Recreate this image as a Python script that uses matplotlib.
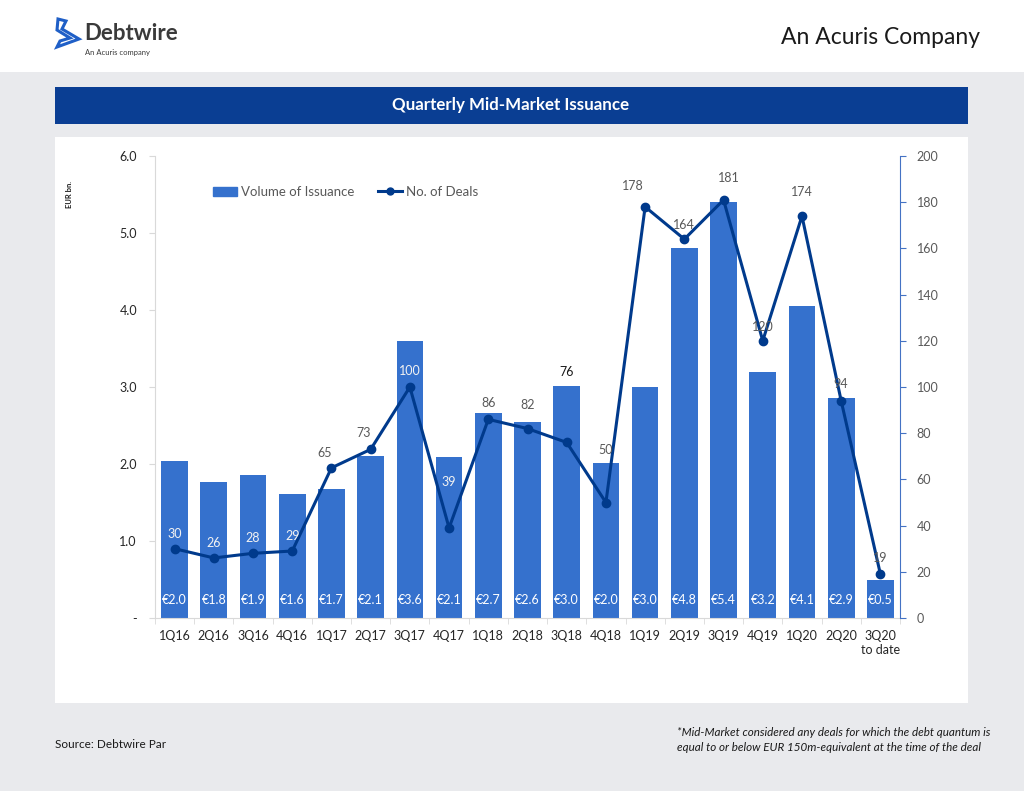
import matplotlib
matplotlib.use("Agg")
import matplotlib.pyplot as plt
from matplotlib.patches import Rectangle, Polygon
from matplotlib.lines import Line2D
import numpy as np

plt.rcParams['font.family'] = ['Lato', 'DejaVu Sans']

# data
quarters = ["1Q16", "2Q16", "3Q16", "4Q16", "1Q17", "2Q17", "3Q17", "4Q17", "1Q18", "2Q18",
            "3Q18", "4Q18", "1Q19", "2Q19", "3Q19", "4Q19", "1Q20", "2Q20", "3Q20\nto date"]
volume = [2.04, 1.77, 1.86, 1.61, 1.67, 2.10, 3.60, 2.09, 2.66, 2.55,
          3.01, 2.01, 3.00, 4.81, 5.40, 3.19, 4.05, 2.86, 0.49]
volume_labels = ["€2.0", "€1.8", "€1.9", "€1.6", "€1.7", "€2.1", "€3.6", "€2.1", "€2.7", "€2.6",
                 "€3.0", "€2.0", "€3.0", "€4.8", "€5.4", "€3.2", "€4.1", "€2.9", "€0.5"]
deals = [30, 26, 28, 29, 65, 73, 100, 39, 86, 82, 76, 50, 178, 164, 181, 120, 174, 94, 19]

BAR = "#3571cd"
LINE = "#003a8c"
GREY_TXT = "#595959"
BG = "#e9eaed"

fig = plt.figure(figsize=(10.24, 7.91), dpi=100)
fig.patch.set_facecolor(BG)
W, H = 1024, 791


def box(x0, y0, x1, y1, color):
    # pixel coords (top-left origin) -> figure rectangle
    fig.patches.append(Rectangle((x0 / W, 1 - y1 / H), (x1 - x0) / W, (y1 - y0) / H,
                                 transform=fig.transFigure, facecolor=color,
                                 edgecolor="none", zorder=-5))


def ftext(x, y, s, **kw):
    fig.text(x / W, 1 - y / H, s, **kw)


# header / panels
box(0, 0, W, 72, "white")
box(55, 87, 968, 124, "#0a3e93")
box(55, 137, 968, 703, "white")

ftext(980, 37, "An Acuris Company", fontsize=16.5, color="#1a1a1a", ha="right", va="center")
ftext(511, 105, "Quarterly Mid-Market Issuance", fontsize=12.2, color="white",
      fontweight="bold", ha="center", va="center")

# logo
logo = [(58, 19), (66, 21), (62, 29), (79, 39), (57, 47), (60, 41), (70, 38), (57, 30)]
fig.patches.append(Polygon([(x / W, 1 - y / H) for x, y in logo], closed=True,
                           transform=fig.transFigure, facecolor="none",
                           edgecolor="#1f5fc7", linewidth=2.2, zorder=2))
ftext(84, 33, "Debtwire", fontsize=16, color="#3a3a3a", fontweight="bold",
      ha="left", va="center")
ftext(85, 52, "An Acuris company", fontsize=5.5, color="#3a3a3a", ha="left", va="center")

# footer
ftext(55, 745, "Source: Debtwire Par", fontsize=8.5, color="#1a1a1a", ha="left", va="center")
ftext(677, 740, "*Mid-Market considered any deals for which the debt quantum is\n"
                "equal to or below EUR 150m-equivalent at the time of the deal",
      fontsize=8.4, color="#1a1a1a", style="italic", ha="left", va="center",
      linespacing=1.35)

# main chart
ax = fig.add_axes([155 / W, 1 - 618 / H, 745 / W, 462 / H])
ax.set_facecolor("none")
x = np.arange(len(quarters))
ax.bar(x, volume, width=0.68, color=BAR, zorder=2)
ax.set_xlim(-0.5, len(quarters) - 0.5)
ax.set_ylim(0, 6)
ax.set_yticks(np.arange(0, 7, 1.0))
ax.set_yticklabels(["-"] + ["%.1f" % v for v in np.arange(1, 7, 1.0)])
ax.set_xticks(x)
ax.set_xticklabels(quarters)
ax.set_xticks(np.arange(-0.5, len(quarters), 1), minor=True)
ax.tick_params(axis="x", which="major", length=0, pad=9, labelsize=9, labelcolor="#262626")
ax.tick_params(axis="x", which="minor", length=4, color="#d9d9d9")
ax.tick_params(axis="y", length=4, color="#d9d9d9", labelsize=9, labelcolor="#262626", pad=9)
for s in ["top", "right"]:
    ax.spines[s].set_visible(False)
ax.spines["left"].set_color("#d9d9d9")
ax.spines["bottom"].set_color("#d9d9d9")

for xi, lab in zip(x, volume_labels):
    ax.text(xi, 0.15, lab, ha="center", va="bottom", color="white", fontsize=9, zorder=3)

ftext(70, 195, "EUR bn.", fontsize=5.5, fontweight="bold", rotation=90,
      ha="center", va="center", color="#1a1a1a")

ax2 = ax.twinx()
ax2.plot(x, deals, color=LINE, linewidth=2.2, marker="o", markersize=6, zorder=4)
ax2.set_ylim(0, 200)
ax2.set_yticks(np.arange(0, 201, 20))
ax2.tick_params(axis="y", length=4, color="#4472c4", labelsize=9, labelcolor=GREY_TXT, pad=8)
for s in ["top", "left", "bottom"]:
    ax2.spines[s].set_visible(False)
ax2.spines["right"].set_color("#4472c4")

# label offsets in pixels (dx, dy); labels that sit on a bar are white
offs = [(0, 15), (0, 15), (0, 15), (0, 15), (-7, 15), (-7, 16), (0, 16), (0, 46), (0, 16),
        (0, 24), (0, 70), (0, 53), (-12, 21), (0, 14), (5, 22), (0, 14), (0, 24), (0, 17), (0, 16)]
on_bar = {0, 1, 2, 3, 6, 7}
for i, (xi, d) in enumerate(zip(x, deals)):
    col = "#f2f2f2" if i in on_bar else ("#1a1a1a" if d == 76 else GREY_TXT)
    ax2.annotate(str(d), (xi, d), xytext=offs[i], textcoords="offset pixels",
                 ha="center", va="center", fontsize=9, color=col, zorder=5)

handles = [Rectangle((0, 0), 1, 1, color=BAR),
           Line2D([0], [0], color=LINE, linewidth=2.2, marker="o", markersize=5)]
leg = ax.legend(handles, ["Volume of Issuance", "No. of Deals"], ncol=2, frameon=False,
                loc="center left", bbox_to_anchor=(0.062, 0.922), fontsize=9.5,
                handlelength=1.8, handletextpad=0.3, columnspacing=1.8)
for t in leg.get_texts():
    t.set_color(GREY_TXT)

fig.savefig("out.png", dpi=100, facecolor=fig.get_facecolor())
